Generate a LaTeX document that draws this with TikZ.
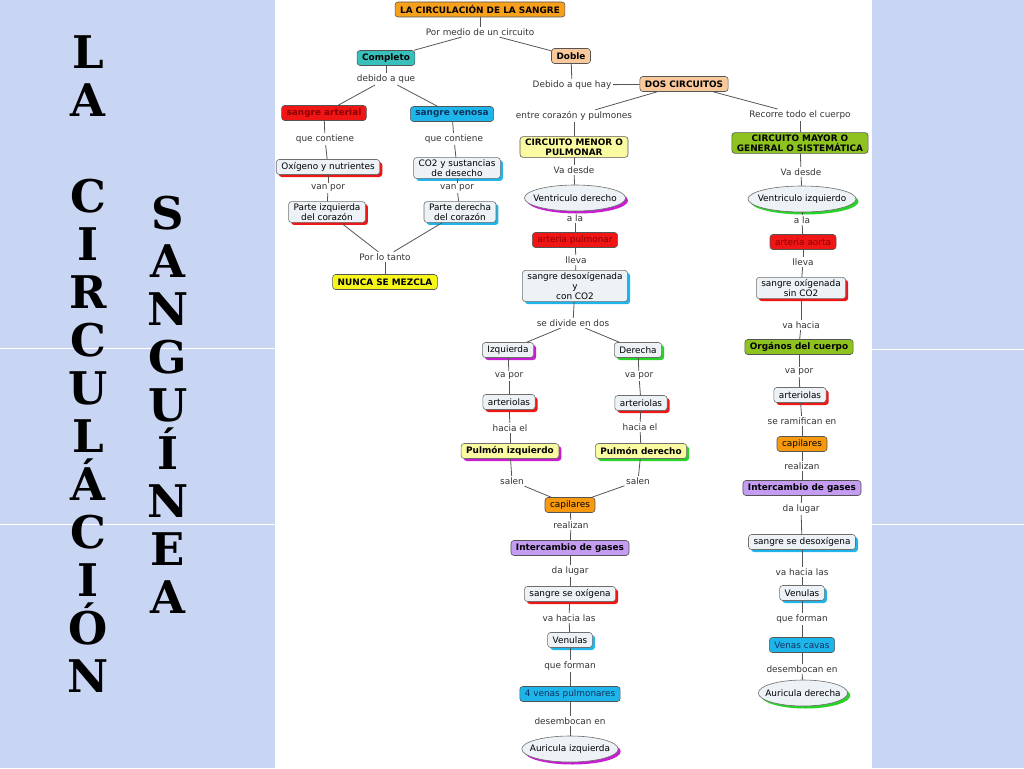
\documentclass[tikz,border=0pt]{standalone}
\usepackage{fontspec}
\setmainfont{DejaVu Sans}
\newfontfamily\letrafont{DejaVu Serif}
\usetikzlibrary{shapes.geometric,shadows}

\definecolor{fondo}{RGB}{200,214,244}
\definecolor{linea}{RGB}{85,85,85}
\definecolor{borde}{RGB}{110,110,110}
\definecolor{claro}{RGB}{236,242,245}
\definecolor{naranja}{RGB}{247,160,28}
\definecolor{durazno}{RGB}{249,200,155}
\definecolor{turquesa}{RGB}{56,192,188}
\definecolor{rojo}{RGB}{240,22,22}
\definecolor{rojooscuro}{RGB}{140,0,0}
\definecolor{celeste}{RGB}{30,182,234}
\definecolor{azuloscuro}{RGB}{15,50,95}
\definecolor{amarillo}{RGB}{246,246,26}
\definecolor{amarilloclaro}{RGB}{250,250,160}
\definecolor{verde}{RGB}{141,194,31}
\definecolor{lila}{RGB}{196,156,242}
\definecolor{naranjacap}{RGB}{247,153,15}
\definecolor{magenta}{RGB}{200,30,210}
\definecolor{verdesombra}{RGB}{40,210,40}

\tikzset{
  every node/.style={font=\fontsize{8.9}{10}\selectfont},
  box/.style={draw=linea, line width=0.6pt, rounded corners=3pt, fill=#1,
    inner xsep=5pt, inner ysep=2pt, minimum height=15pt, align=center},
  bold/.style={font=\fontsize{8.9}{10}\selectfont\bfseries},
  sbox/.style={box=claro, draw=borde,
    drop shadow={shadow xshift=2.5pt, shadow yshift=-2.5pt, fill=#1, opacity=1}},
  oval/.style={ellipse, draw=borde, line width=0.6pt, fill=claro,
    inner xsep=-6pt, inner ysep=2pt, minimum height=26pt,
    drop shadow={shadow xshift=2.5pt, shadow yshift=-2.5pt, fill=#1, opacity=1}},
  lnk/.style={text=black!80, inner sep=1.5pt},
  link/.style={draw=linea, line width=0.8pt},
  letra/.style={font=\letrafont\bfseries\fontsize{45}{48}\selectfont, align=center,
    inner sep=0pt, anchor=north}
}

\begin{document}
\begin{tikzpicture}[x=1pt,y=-1pt]
	\useasboundingbox (0,0) rectangle (1024,768);
	% fondo
	\fill[fondo] (0,0) rectangle (275,768);
	\fill[fondo] (872,0) rectangle (1024,768);
	\draw[white, line width=1pt] (0,348) -- (275,348) (0,524) -- (275,524);
	\draw[white, line width=1pt] (872,349) -- (1024,349) (872,524) -- (1024,524);

	% titulo vertical
	\node[letra] (w_1) at (88,35) {L\\A};
	\node[letra] (w_2) at (88,179) {C\\I\\R\\C\\U\\L\\Á\\C\\I\\Ó\\N};
	\node[letra] (w_3) at (168,196) {S\\A\\N\\G\\U\\Í\\N\\E\\A};

	% rama izquierda
	\node[box=naranja, bold] (tit) at (480,9.5) {LA CIRCULACIÓN DE LA SANGRE};
	\node[lnk] (l_1) at (480,32) {Por medio de un circuito};
	\node[box=turquesa, bold] (comp) at (386,58) {Completo};
	\node[box=durazno, bold] (dob) at (571,56) {Doble};
	\node[lnk] (l_2) at (386,79) {debido a que};
	\node[box=rojo, bold, text=rojooscuro] (art) at (324,113) {sangre arterial};
	\node[box=celeste, bold, text=azuloscuro] (ven) at (452,114) {sangre venosa};
	\node[lnk] (l_3) at (325,139) {que contiene};
	\node[lnk] (l_4) at (454,139) {que contiene};
	\node[sbox=rojo] (oxi) at (328,167) {Oxígeno y nutrientes};
	\node[sbox=celeste] (co2) at (457,168) {CO2 y sustancias\\de desecho};
	\node[lnk] (l_5) at (328,188) {van por};
	\node[lnk] (l_6) at (457,188) {van por};
	\node[sbox=rojo] (piz) at (327,212) {Parte izquierda\\del corazón};
	\node[sbox=celeste] (pde) at (460,212) {Parte derecha\\del corazón};
	\node[lnk] (l_7) at (385,257) {Por lo tanto};
	\node[box=amarillo, bold] (nun) at (385,282) {NUNCA SE MEZCLA};

	% dos circuitos
	\node[lnk] (l_8) at (572,85) {Debido a que hay};
	\node[box=durazno, bold] (dos) at (684,84) {DOS CIRCUITOS};
	\node[lnk] (l_9) at (574,116) {entre corazón y pulmones};
	\node[lnk] (l_10) at (800,115) {Recorre todo el cuerpo};

	% circuito menor
	\node[box=amarilloclaro, bold] (men) at (574,147) {CIRCUITO MENOR O\\PULMONAR};
	\node[lnk] (l_11) at (574,170) {Va desde};
	\node[oval=magenta] (vde) at (575,198) {Ventriculo derecho};
	\node[lnk] (l_13) at (575,218) {a la};
	\node[box=rojo, text=rojooscuro] (apu) at (575,240) {arteria pulmonar};
	\node[lnk] (l_15) at (576,260) {lleva};
	\node[sbox=celeste] (sdx) at (575,286) {sangre desoxígenada\\y\\con CO2};
	\node[lnk] (l_17) at (573,323) {se divide en dos};
	\node[sbox=magenta] (izq) at (508,350) {Izquierda};
	\node[sbox=verdesombra] (der) at (638,350) {Derecha};
	\node[lnk] (l_19) at (509,376) {va por};
	\node[lnk] (l_20) at (639,376) {va por};
	\node[sbox=rojo] (ar_1) at (509,402) {arteriolas};
	\node[sbox=rojo] (ar_2) at (641,403) {arteriolas};
	\node[lnk] (l_22) at (510,428) {hacia el};
	\node[lnk] (l_23) at (640,427) {hacia el};
	\node[sbox=magenta, fill=amarilloclaro, bold] (pui) at (510,451) {Pulmón izquierdo};
	\node[sbox=verdesombra, fill=amarilloclaro, bold] (pud) at (641,451) {Pulmón derecho};
	\node[lnk] (l_25) at (512,481) {salen};
	\node[lnk] (l_26) at (638,481) {salen};
	\node[box=naranjacap] (cap_1) at (570,505) {capilares};
	\node[lnk] (l_28) at (571,525) {realizan};
	\node[box=lila, bold] (int_1) at (570,548) {Intercambio de gases};
	\node[lnk] (l_30) at (570,571) {da lugar};
	\node[sbox=rojo] (sso) at (570,594) {sangre se oxígena};
	\node[lnk] (l_32) at (569,618) {va hacia las};
	\node[sbox=celeste] (vn_1) at (570,640) {Venulas};
	\node[lnk] (l_34) at (570,666) {que forman};
	\node[box=celeste, text=azuloscuro] (cua) at (570,694) {4 venas pulmonares};
	\node[lnk] (l_36) at (570,721) {desembocan en};
	\node[oval=magenta] (aui) at (570,749) {Auricula izquierda};

	% circuito mayor
	\node[box=verde, bold] (may) at (800,143) {CIRCUITO MAYOR O\\GENERAL O SISTEMÁTICA};
	\node[lnk] (l_12) at (801,172) {Va desde};
	\node[oval=verdesombra] (viz) at (802,199) {Ventriculo izquierdo};
	\node[lnk] (l_14) at (802,220) {a la};
	\node[box=rojo, text=rojooscuro] (aao) at (803,242) {arteria aorta};
	\node[lnk] (l_16) at (803,262) {lleva};
	\node[sbox=rojo] (sox) at (801,288) {sangre oxígenada\\sin CO2};
	\node[lnk] (l_18) at (801,325) {va hacia};
	\node[box=verde, bold] (org) at (799,347) {Orgános del cuerpo};
	\node[lnk] (l_21) at (799,372) {va por};
	\node[sbox=rojo] (ar_3) at (800,395) {arteriolas};
	\node[lnk] (l_24) at (802,421) {se ramifican en};
	\node[box=naranjacap] (cap_2) at (802,444) {capilares};
	\node[lnk] (l_27) at (802,466) {realizan};
	\node[box=lila, bold] (int_2) at (802,488) {Intercambio de gases};
	\node[lnk] (l_29) at (801,509) {da lugar};
	\node[sbox=celeste] (sdo) at (802,542) {sangre se desoxígena};
	\node[lnk] (l_31) at (802,572) {va hacia las};
	\node[sbox=celeste] (vn_2) at (802,593) {Venulas};
	\node[lnk] (l_33) at (802,619) {que forman};
	\node[box=celeste, text=azuloscuro] (cav) at (802,645) {Venas cavas};
	\node[lnk] (l_35) at (802,669) {desembocan en};
	\node[oval=verdesombra] (aud) at (803,693) {Auricula derecha};

	% conexiones
	\draw[link] (tit) -- (l_1);
	\draw[link] (l_1) -- (comp);
	\draw[link] (l_1) -- (dob);
	\draw[link] (comp) -- (l_2);
	\draw[link] (l_2) -- (art);
	\draw[link] (l_2) -- (ven);
	\draw[link] (art) -- (l_3);
	\draw[link] (l_3) -- (oxi);
	\draw[link] (ven) -- (l_4);
	\draw[link] (l_4) -- (co2);
	\draw[link] (oxi) -- (l_5);
	\draw[link] (l_5) -- (piz);
	\draw[link] (co2) -- (l_6);
	\draw[link] (l_6) -- (pde);
	\draw[link] (piz) -- (l_7);
	\draw[link] (pde) -- (l_7);
	\draw[link] (l_7) -- (nun);
	\draw[link] (dob) -- (l_8);
	\draw[link] (l_8) -- (dos);
	\draw[link] (dos) -- (l_9);
	\draw[link] (l_9) -- (men);
	\draw[link] (dos) -- (l_10);
	\draw[link] (l_10) -- (may);

	\draw[link] (men) -- (l_11);
	\draw[link] (l_11) -- (vde);
	\draw[link] (vde) -- (l_13);
	\draw[link] (l_13) -- (apu);
	\draw[link] (apu) -- (l_15);
	\draw[link] (l_15) -- (sdx);
	\draw[link] (sdx) -- (l_17);
	\draw[link] (l_17) -- (izq);
	\draw[link] (l_17) -- (der);
	\draw[link] (izq) -- (l_19);
	\draw[link] (l_19) -- (ar_1);
	\draw[link] (der) -- (l_20);
	\draw[link] (l_20) -- (ar_2);
	\draw[link] (ar_1) -- (l_22);
	\draw[link] (l_22) -- (pui);
	\draw[link] (ar_2) -- (l_23);
	\draw[link] (l_23) -- (pud);
	\draw[link] (pui) -- (l_25);
	\draw[link] (l_25) -- (cap_1);
	\draw[link] (pud) -- (l_26);
	\draw[link] (l_26) -- (cap_1);
	\draw[link] (cap_1) -- (l_28);
	\draw[link] (l_28) -- (int_1);
	\draw[link] (int_1) -- (l_30);
	\draw[link] (l_30) -- (sso);
	\draw[link] (sso) -- (l_32);
	\draw[link] (l_32) -- (vn_1);
	\draw[link] (vn_1) -- (l_34);
	\draw[link] (l_34) -- (cua);
	\draw[link] (cua) -- (l_36);
	\draw[link] (l_36) -- (aui);

	\draw[link] (may) -- (l_12);
	\draw[link] (l_12) -- (viz);
	\draw[link] (viz) -- (l_14);
	\draw[link] (l_14) -- (aao);
	\draw[link] (aao) -- (l_16);
	\draw[link] (l_16) -- (sox);
	\draw[link] (sox) -- (l_18);
	\draw[link] (l_18) -- (org);
	\draw[link] (org) -- (l_21);
	\draw[link] (l_21) -- (ar_3);
	\draw[link] (ar_3) -- (l_24);
	\draw[link] (l_24) -- (cap_2);
	\draw[link] (cap_2) -- (l_27);
	\draw[link] (l_27) -- (int_2);
	\draw[link] (int_2) -- (l_29);
	\draw[link] (l_29) -- (sdo);
	\draw[link] (sdo) -- (l_31);
	\draw[link] (l_31) -- (vn_2);
	\draw[link] (vn_2) -- (l_33);
	\draw[link] (l_33) -- (cav);
	\draw[link] (cav) -- (l_35);
	\draw[link] (l_35) -- (aud);
\end{tikzpicture}
\end{document}
